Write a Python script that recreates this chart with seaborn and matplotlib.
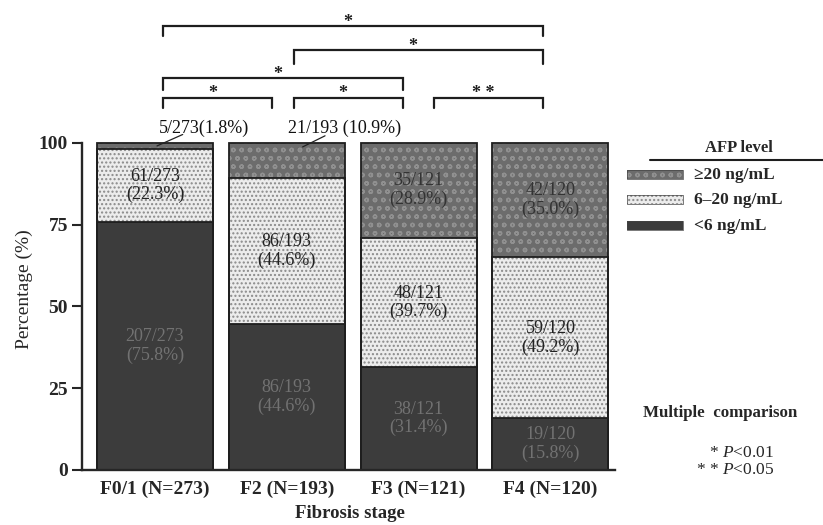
import matplotlib
matplotlib.use("Agg")
import matplotlib.pyplot as plt
from matplotlib.patches import Rectangle
from matplotlib.lines import Line2D
import seaborn as sns
import pandas as pd

# data
stages = ["F0/1 (N=273)", "F2 (N=193)", "F3 (N=121)", "F4 (N=120)"]
n_total = [273, 193, 121, 120]
n_low = [207, 86, 38, 19]      # <6 ng/mL
n_mid = [61, 86, 48, 59]       # 6-20 ng/mL
n_high = [5, 21, 35, 42]       # >=20 ng/mL
pct_low = [75.8, 44.6, 31.4, 15.8]
pct_mid = [22.3, 44.6, 39.7, 49.2]
pct_high = [1.8, 10.9, 28.9, 35.0]

# multiple comparison: (group a, group b, mark)
comparisons = [(0, 1, "*"), (1, 2, "*"), (2, 3, "* *"), (0, 2, "*"), (1, 3, "*"), (0, 3, "*")]
bracket_y = [113.8, 113.8, 113.8, 119.8, 128.4, 135.8]
bracket_leg = [3.2, 3.2, 3.2, 3.6, 4.2, 3.2]
left_off = [0.06, 0.055, 0.12, 0.0]
right_off = [0.0, -0.11, -0.12, -0.06]

sns.set_style("ticks")
plt.rcParams["font.family"] = ["Liberation Serif", "DejaVu Serif"]
plt.rcParams["mathtext.fontset"] = "custom"
plt.rcParams["mathtext.it"] = "Liberation Serif:italic"
plt.rcParams["mathtext.rm"] = "Liberation Serif"
plt.rcParams["hatch.linewidth"] = 1.0

df = pd.DataFrame({"stage": stages, "low": pct_low, "mid": pct_mid, "high": pct_high})
df["cum_mid"] = df["low"] + df["mid"]
df["cum_high"] = df["cum_mid"] + df["high"]

W, H = 823, 525
fig = plt.figure(figsize=(W / 100, H / 100), dpi=100)
ax = fig.add_axes([82 / W, 55 / H, (615 - 82) / W, (470 - 5) / H])

layers = [
    ("cum_high", "#6c6c6c", "#909090", "oo"),
    ("cum_mid", "#ececec", "#8a8a8a", "...."),
    ("low", "#3c3c3c", "#4a4a4a", None),
]
for col, face, hcol, hatch in layers:
    n0 = len(ax.patches)
    sns.barplot(data=df, x="stage", y=col, color=face, saturation=1, width=0.88,
                ax=ax, errorbar=None)
    for p in ax.patches[n0:]:
        p.set_edgecolor(hcol)
        p.set_linewidth(0)
        if hatch:
            p.set_hatch(hatch)

# outlines of each segment
for col in ["cum_high", "cum_mid", "low"]:
    sns.barplot(data=df, x="stage", y=col, fill=False, color="#1e1e1e", width=0.88,
                ax=ax, errorbar=None, linewidth=1.3)

# segment labels
for i in range(len(stages)):
    lo, mi, hi = pct_low[i], pct_mid[i], pct_high[i]
    ax.text(i, lo / 2, f"{n_low[i]}/{n_total[i]}\n({lo:.1f}%)", ha="center", va="center",
            fontsize=13, color="#727272", linespacing=1.1)
    ax.text(i, lo + mi / 2, f"{n_mid[i]}/{n_total[i]}\n({mi:.1f}%)", ha="center", va="center",
            fontsize=13, color="#222222", linespacing=1.1)
    if hi > 20:
        ax.text(i, lo + mi + hi / 2, f"{n_high[i]}/{n_total[i]}\n({hi:.1f}%)", ha="center",
                va="center", fontsize=13, color="#333333", linespacing=1.1)

# small top segments labelled above the bars
ax.text(0.37, 104.6, f"{n_high[0]}/{n_total[0]}({pct_high[0]:.1f}%)", ha="center", va="center",
        fontsize=13, color="#111111", clip_on=False)
ax.text(1.44, 104.6, f"{n_high[1]}/{n_total[1]} ({pct_high[1]:.1f}%)", ha="center", va="center",
        fontsize=13, color="#111111", clip_on=False)
ax.plot([0.21, 0.015], [102.6, 99.1], color="#222222", lw=0.9, clip_on=False)
ax.plot([1.29, 1.12], [102.2, 98.8], color="#222222", lw=0.9, clip_on=False)

# significance brackets
for (a, b, mark), y, leg in zip(comparisons, bracket_y, bracket_leg):
    xa = a + left_off[a]
    xb = b + right_off[b]
    ax.plot([xa, xa, xb, xb], [y - leg, y, y, y - leg], color="#1e1e1e", lw=1.6,
            clip_on=False, solid_joinstyle="miter")
    ax.text((xa + xb) / 2 - 0.04, y - 1.4, mark, ha="center", va="bottom", fontsize=13,
            fontweight="bold", color="#1e1e1e")

ax.set_xlim(-0.554, 3.49)
ax.set_ylim(0, 142.2)
ax.set_yticks([0, 25, 50, 75, 100])
ax.set_yticklabels(["0", "25", "50", "75", "100"], fontsize=14, fontweight="bold")
ax.set_xticks(range(4))
ax.set_xticklabels(stages, fontsize=14, fontweight="bold")
ax.tick_params(axis="x", length=0, pad=8)
ax.tick_params(axis="y", length=7, width=1.5, pad=3, direction="out")
sns.despine(ax=ax)
ax.spines["left"].set_bounds(0, 100)
ax.spines["left"].set_linewidth(1.7)
ax.spines["bottom"].set_linewidth(1.7)
ax.set_xlabel("")
ax.set_ylabel("")
fig.text(24 / W, 1 - 289 / H, "Percentage (%)", rotation=90, ha="center", va="center", fontsize=14)
fig.text(350 / W, 1 - 513 / H, "Fibrosis stage", ha="center", va="center", fontsize=13.5,
         fontweight="bold")

# legend
fig.text(739 / W, 1 - 148 / H, "AFP level", ha="center", va="center", fontsize=12,
         fontweight="bold")
fig.add_artist(Line2D([650 / W, 1.0], [1 - 160 / H, 1 - 160 / H], color="#1e1e1e", lw=1.5,
                      transform=fig.transFigure))
legend_items = [("≥20 ng/mL", "#6c6c6c", "#909090", "oo", 174),
                ("6–20 ng/mL", "#ececec", "#8a8a8a", "....", 199),
                ("<6 ng/mL", "#3c3c3c", "#4a4a4a", None, 225)]
for label, face, hcol, hatch, py in legend_items:
    r = Rectangle((627 / W, 1 - (py + 4.5) / H), 56 / W, 9 / H, transform=fig.transFigure,
                  facecolor=face, edgecolor=hcol, hatch=hatch, linewidth=0)
    fig.add_artist(r)
    fig.add_artist(Rectangle((627 / W, 1 - (py + 4.5) / H), 56 / W, 9 / H,
                             transform=fig.transFigure, fill=False, edgecolor="#444444",
                             linewidth=0.5))
    fig.text(694 / W, 1 - (py + 1) / H, label, ha="left", va="center", fontsize=12.5,
             fontweight="bold")

fig.text(643 / W, 1 - 413 / H, "Multiple  comparison", ha="left", va="center", fontsize=12.2,
         fontweight="bold")
fig.text(774 / W, 1 - 453 / H, r"* $\mathit{P}$<0.01", ha="right", va="center", fontsize=12.5)
fig.text(774 / W, 1 - 470 / H, r"* * $\mathit{P}$<0.05", ha="right", va="center", fontsize=12.5)

fig.savefig("out.png", dpi=100)
